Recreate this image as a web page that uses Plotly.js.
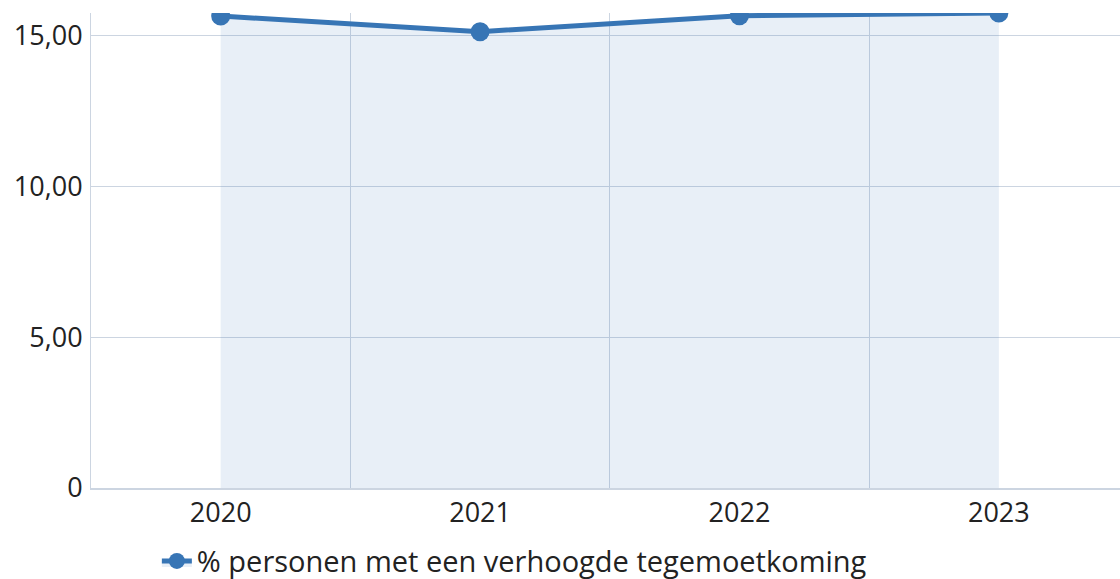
<!DOCTYPE html>
<html><head><meta charset="utf-8">
<script src="https://cdn.plot.ly/plotly-3.0.1.min.js"></script>
<style>html,body{margin:0;padding:0;background:#fff}#c{width:1120px;height:579px}</style>
</head><body><div id="c"></div>
<script>
const years = ['2020', '2021', '2022', '2023'];
const values = [15.65, 15.13, 15.66, 15.75];
const seriesName = '% personen met een verhoogde tegemoetkoming';
const yTickVals = [0, 5, 10, 15];
const yTickText = ['0', '5,00', '10,00', '15,00'];

const lineColor = '#3775b5';
const fillColor = 'rgba(55,117,181,0.115)';
const gridColor = '#ccd5e1';
const font = {family: 'Open Sans, Noto Sans, sans-serif', size: 27, color: '#222'};
const legendFont = {family: 'Open Sans, Noto Sans, sans-serif', size: 29, color: '#222'};

Plotly.newPlot('c', [{
  x: years, y: values, type: 'scatter', mode: 'lines+markers',
  name: seriesName, fill: 'tozeroy', fillcolor: fillColor,
  line: {color: lineColor, width: 5},
  marker: {color: lineColor, size: 19},
  cliponaxis: true
}], {
  width: 1120, height: 579,
  margin: {l: 91, r: 0, t: 13, b: 91, autoexpand: false},
  paper_bgcolor: '#fff', plot_bgcolor: '#fff',
  font: font,
  showlegend: true,
  legend: {orientation: 'h', x: 0.064, xanchor: 'left', yref: 'container', y: 0.031, yanchor: 'middle', font: legendFont, bgcolor: 'rgba(0,0,0,0)'},
  xaxis: {type: 'category', range: [-0.5, 3.467], tickson: 'boundaries', showgrid: true, gridcolor: gridColor, gridwidth: 1,
    showline: true, linecolor: gridColor, linewidth: 1.5, ticks: '', tickfont: font, zeroline: false, fixedrange: true, automargin: false},
  yaxis: {range: [0, 15.75], tickvals: yTickVals, ticktext: yTickText, showgrid: true, gridcolor: gridColor, gridwidth: 1,
    showline: true, linecolor: gridColor, linewidth: 1, ticks: '', tickfont: font, zeroline: false, ticklabelstandoff: 2, fixedrange: true, automargin: false}
}, {displayModeBar: false, staticPlot: true});
</script></body></html>
